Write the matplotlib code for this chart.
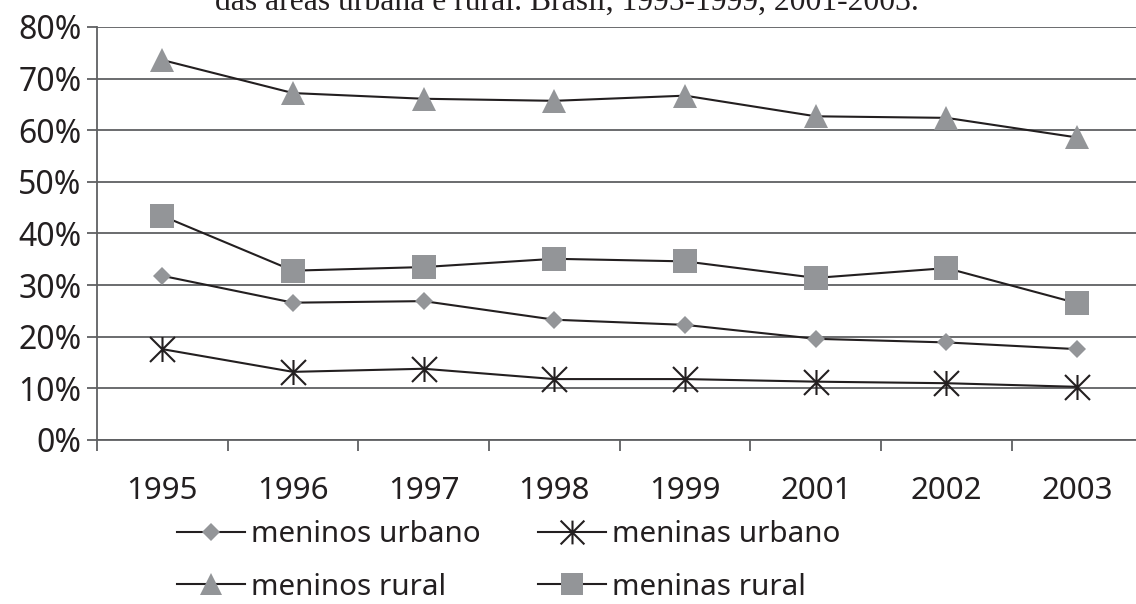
import matplotlib
matplotlib.use('Agg')
import matplotlib.pyplot as plt
from matplotlib.path import Path
from matplotlib.ticker import FixedLocator, PercentFormatter

# data (percent)
anos = ['1995', '1996', '1997', '1998', '1999', '2001', '2002', '2003']
meninos_urbano = [31.8, 26.6, 26.9, 23.3, 22.3, 19.6, 18.9, 17.6]
meninas_urbano = [17.6, 13.2, 13.8, 11.8, 11.8, 11.3, 11.0, 10.3]
meninos_rural = [73.6, 67.2, 66.1, 65.7, 66.7, 62.7, 62.4, 58.6]
meninas_rural = [43.4, 32.8, 33.5, 35.1, 34.6, 31.4, 33.3, 26.5]

titulo = 'das áreas urbana e rural. Brasil, 1995-1999, 2001-2003.'

cinza = '#939598'
preto = '#231f20'
grade = '#5f6062'

plt.rcParams['font.family'] = ['Noto Sans', 'DejaVu Sans']

# asterisk: X plus a vertical bar
asterisco = Path([(-1, -1), (1, 1), (-1, 1), (1, -1), (0, -1), (0, 1)],
                 [Path.MOVETO, Path.LINETO, Path.MOVETO, Path.LINETO,
                  Path.MOVETO, Path.LINETO])

fig = plt.figure(figsize=(11.36, 6.04), dpi=100)
ax = fig.add_axes([97 / 1136, 1 - 440 / 604, 1045.5 / 1136, 413 / 604])

x = list(range(len(anos)))
l1, = ax.plot(x, meninos_urbano, color=preto, lw=1.5, marker='D', ms=9.5,
              mfc=cinza, mec=cinza, mew=0, label='meninos urbano', zorder=3)
l2, = ax.plot(x, meninas_urbano, color=preto, lw=1.5, marker=asterisco, ms=18,
              mfc='none', mec=preto, mew=1.5, label='meninas urbano', zorder=3)
l3, = ax.plot(x, meninos_rural, color=preto, lw=1.5, marker='^', ms=17,
              mfc=cinza, mec=cinza, mew=0, label='meninos rural', zorder=3)
l4, = ax.plot(x, meninas_rural, color=preto, lw=1.5, marker='s', ms=17,
              mfc=cinza, mec=cinza, mew=0, label='meninas rural', zorder=3)

ax.set_xlim(-0.5, len(anos) - 0.5)
ax.set_ylim(0, 80)
ax.set_yticks(range(0, 81, 10))
ax.yaxis.set_major_formatter(PercentFormatter(decimals=0))
ax.set_xticks(x)
ax.set_xticklabels(anos)
ax.xaxis.set_minor_locator(FixedLocator([i - 0.5 for i in range(len(anos) + 1)]))

ax.grid(axis='y', color=grade, lw=1.3)
ax.set_axisbelow(True)
for s in ['top', 'right']:
    ax.spines[s].set_visible(False)
for s in ['left', 'bottom']:
    ax.spines[s].set_color(grade)
    ax.spines[s].set_linewidth(1.3)

ax.tick_params(axis='y', length=7, width=1.3, color=grade, labelsize=23,
               pad=4, labelcolor=preto)
ax.tick_params(axis='x', which='major', length=0, labelsize=22.5, pad=26,
               labelcolor=preto)
ax.tick_params(axis='x', which='minor', length=8, width=1.3, color=grade)

# columns are filled first, so order gives rows: urbano / rural
leg = fig.legend([l1, l3, l2, l4],
                 ['meninos urbano', 'meninos rural', 'meninas urbano', 'meninas rural'],
                 loc='center left', bbox_to_anchor=(162 / 1136, 1 - 561 / 604),
                 ncol=2, frameon=False, fontsize=21.3, handlelength=2.3,
                 handletextpad=0.2, columnspacing=1.95, labelspacing=0.8,
                 borderpad=0, markerscale=0.95)
for t in leg.get_texts():
    t.set_color(preto)

fig.text(567 / 1136, 1 - 10 / 604, titulo, ha='center', va='baseline',
         fontsize=22.8, family='Liberation Serif', color=preto)

fig.savefig('out.png', dpi=100)
